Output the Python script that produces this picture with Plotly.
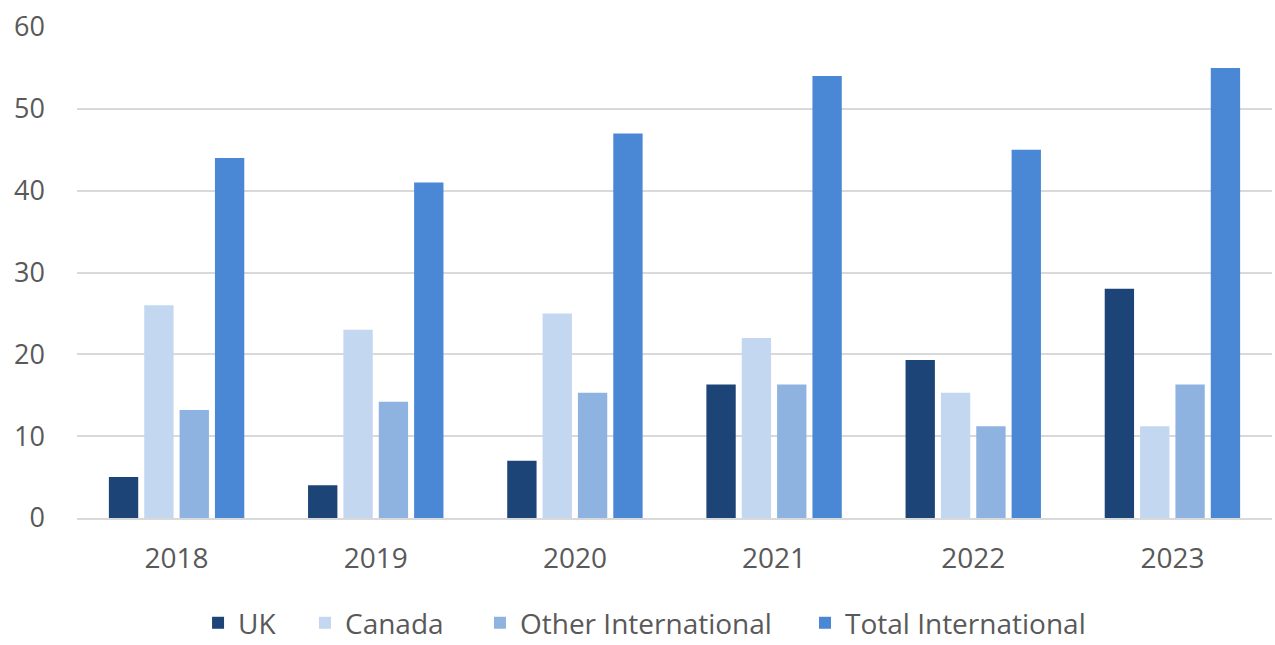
import plotly.graph_objects as go

years = ["2018", "2019", "2020", "2021", "2022", "2023"]
uk = [5, 4, 7, 16.3, 19.3, 28]
canada = [26, 23, 25, 22, 15.3, 11.2]
other_intl = [13.2, 14.2, 15.3, 16.3, 11.2, 16.3]
total_intl = [44, 41, 47, 54, 45, 55]

series = [
    ("UK", uk, "#1d4477"),
    ("Canada", canada, "#c3d8f0"),
    ("Other International", other_intl, "#8fb3e0"),
    ("Total International", total_intl, "#4a88d6"),
]
legend_ids = ["legend", "legend2", "legend3", "legend4"]
legend_x = [0.1013, 0.1908, 0.3372, 0.6092]

fig = go.Figure()
for (name, vals, color), lid in zip(series, legend_ids):
    fig.add_trace(go.Bar(x=years, y=vals, name=name, legend=lid,
                         marker=dict(color=color, line=dict(width=0))))

font_family = "Open Sans, DejaVu Sans, sans-serif"
legend_common = dict(orientation="h", yref="container", y=0.034, yanchor="middle", xanchor="left",
                     font=dict(size=28, color="#595959"), bgcolor="rgba(0,0,0,0)",
                     borderwidth=0, tracegroupgap=0)
layout_legends = {lid: dict(x=lx, **legend_common) for lid, lx in zip(legend_ids, legend_x)}

fig.update_layout(
    width=1275, height=645,
    margin=dict(l=77, r=3, t=27, b=127),
    paper_bgcolor="white", plot_bgcolor="white",
    barmode="group", bargap=0.29, bargroupgap=0.17,
    font=dict(family=font_family, size=27, color="#595959"),
    showlegend=True,
    **layout_legends,
)
fig.update_yaxes(range=[0, 60], dtick=10, showgrid=True, gridcolor="#d9d9d9", gridwidth=2,
                 zeroline=False, showline=False, ticks="", ticklabelstandoff=31, automargin=False,
                 tickfont=dict(size=27, color="#595959"))
fig.update_xaxes(showline=True, linecolor="#d9d9d9", linewidth=2, ticks="", automargin=False,
                 ticklabelstandoff=14, tickfont=dict(size=28, color="#595959"))

fig.write_html("out.html")
